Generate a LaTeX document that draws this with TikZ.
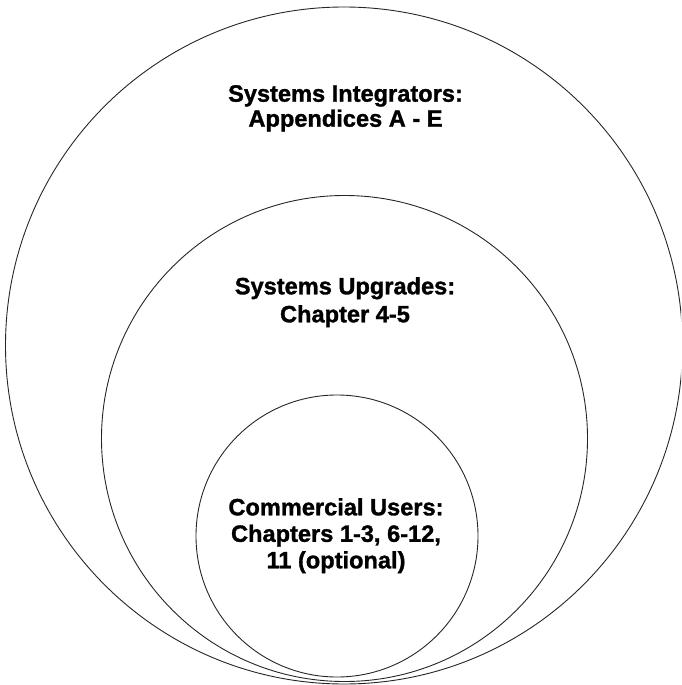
\documentclass[tikz,border=0pt]{standalone}
\usepackage{fontspec}
\setmainfont{Liberation Sans}[BoldFeatures={FakeBold=1.3}]
\begin{document}
\begin{tikzpicture}[x=1pt,y=-1pt,
  ring/.style={draw=black!85, line width=0.9pt},
  lbl/.style={anchor=north, inner sep=0pt, align=center, text=black,
    font=\fontsize{23.6}{26.5}\selectfont\bfseries}]
\useasboundingbox (0,0) rectangle (681,685);
\begin{scope}
\clip (0,0) rectangle (681,685);
\draw[ring] (344,345.5) circle[radius=338.5];
\end{scope}
\draw[ring] (344.5,438.5) circle[radius=243];
\draw[ring] (337,536) circle[radius=141];
\node[lbl, font=\fontsize{23.6}{25}\selectfont\bfseries] (integ) at (345.5,85) {Systems Integrators:\\Appendices A - E};
\node[lbl, font=\fontsize{23.6}{28}\selectfont\bfseries] (upgr) at (345,277) {Systems Upgrades:\\Chapter 4-5};
\node[lbl] (comm) at (336,498) {Commercial Users:\\Chapters 1-3, 6-12,\\11 (optional)};
\end{tikzpicture}
\end{document}
